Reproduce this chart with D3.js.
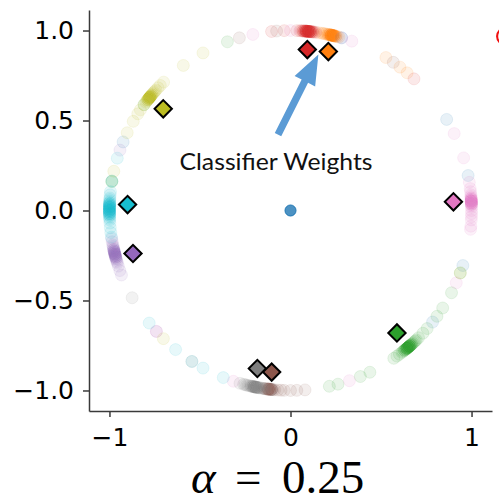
<!DOCTYPE html>
<html>
<head>
<meta charset="utf-8">
<script src="https://cdn.jsdelivr.net/npm/d3@7"></script>
<style>
body { margin: 0; background: #fff; }
</style>
</head>
<body>
<div id="chart"></div>
<script>
// tab10 colours, one per class
var colors = ["#1f77b4","#ff7f0e","#2ca02c","#d62728","#9467bd","#8c564b","#e377c2","#7f7f7f","#bcbd22","#17becf"];

// feature directions on the unit circle (degrees), one list per class
var blueAngles   = [73.6, 30.4, 11.2, 342.2, 321.7, 157.6, 264];
var orangeAngles = [81, 80, 79.5, 79, 78.5, 78, 78, 77.5, 77.5, 77.5, 77, 77, 77, 77, 77, 77, 76.5, 76.5, 76.5, 76.5, 76.5,
                    76.5, 76, 76, 76, 76, 75.5, 75.5, 75, 74.5,
                    58.2, 52.8, 49.9];
var greenAngles  = [306, 307, 308, 308.5, 309, 309, 309.5, 309.5, 310, 310, 310, 310, 310, 310.5, 310.5, 310.5, 310.5,
                    311, 311, 311, 311, 311, 311.5, 311.5, 311.5, 312, 312, 312.5, 313, 313.5, 314, 315,
                    110.4, 144, 170.6, 170.8, 282.4, 285.2, 292.7, 296, 304.8, 317, 319, 324, 327.2, 332.8, 339.7];
var redAngles    = [87, 86.5, 86, 86, 85.5, 85.5, 85.5, 85, 85, 85, 85, 85, 84.5, 84.5, 84.5, 84.5, 84.5, 84, 84, 84, 84,
                    84, 83.5, 83.5, 83.5, 83, 83, 82.5, 82,
                    88, 92, 96, 47];
var purpleAngles = [189, 190, 191, 191.5, 192, 192.5, 192.5, 193, 193, 193, 193.5, 193.5, 193.5, 194, 194, 194, 194,
                    194.5, 194.5, 194.5, 195, 195, 195, 195.5, 195.5, 196, 196.5, 197, 198,
                    160.4, 199.5, 201, 222.2, 73.6];
var brownAngles  = [261.5, 262, 262.5, 262.5, 263, 263, 263, 263, 263, 263.5, 263.5, 263.5, 264, 264, 264, 264.5, 265, 266,
                    55.4, 106.4, 94.4, 267, 268, 270, 272, 274.6];
var pinkAngles   = [9, 7, 6, 5, 4.5, 4, 4, 3.5, 3.5, 3.5, 3, 3, 3, 3, 3, 2.5, 2.5, 2.5, 2.5, 2, 2, 2, 1.5, 1, 0, -1,
                    -2, -3, -5, -6,
                    102, 90, 70.2, 25.3, 17, 336.3, 289, 222.2, 251.6];
var grayAngles   = [255.5, 256, 256.5, 257, 257.5, 257.5, 258, 258, 258, 258.5, 258.5, 258.5, 258.5, 259, 259, 259, 259,
                    259.5, 259.5, 259.5, 260, 260, 260.5, 261, 261.5, 262,
                    209, 237, 253.8, 255];
var oliveAngles  = [136, 137, 138, 138.5, 139, 139.5, 140, 140, 140.5, 140.5, 140.5, 141, 141, 141, 141, 141, 141.5,
                    141.5, 141.5, 141.5, 142, 142, 142, 142.5, 143, 144,
                    126.3, 118.9, 134.5, 146, 147.5, 150.3, 154.4, 167.4, 225.4, 339.7];
var cyanAngles   = [174, 175, 176, 176.5, 177, 177.5, 177.5, 178, 178, 178, 178.5, 178.5, 178.5, 179, 179, 179, 179,
                    179.5, 179.5, 179.5, 180, 180, 180, 180, 180.5, 180.5, 180.5, 181, 181, 181, 181.5, 181.5, 182,
                    182.5, 183, 184,
                    163.1, 170.6, 185.5, 187, 188.5, 218.7, 230.6, 241.1, 248.2, 237];
var angleSets = [blueAngles, orangeAngles, greenAngles, redAngles, purpleAngles,
                 brownAngles, pinkAngles, grayAngles, oliveAngles, cyanAngles];

// class that collapsed onto the origin
var centerPoints = [[0, 0]];

// classifier weight vectors [class, x, y]
var weights = [
  [3, 0.093, 0.894], [1, 0.209, 0.883], [8, -0.703, 0.565], [9, -0.90, 0.033],
  [4, -0.870, -0.239], [6, 0.90, 0.048], [2, 0.588, -0.68], [7, -0.183, -0.878], [5, -0.104, -0.898]
];

var xTicks = [-1, 0, 1];
var yTicks = [-1.0, -0.5, 0.0, 0.5, 1.0];

// annotation arrow (tail, tip) in data units
var arrowTail = [-0.069, 0.422], arrowTip = [0.154, 0.867];
var labelPos = [-0.08, 0.224];
// stray marker from the neighbouring panel, at the right edge
var strayPoint = [1.185, 0.968];

var W = 499, H = 502;
var margin = {top: 10, right: 7, bottom: 91, left: 89};

var svg = d3.select("#chart").append("svg")
    .attr("width", W).attr("height", H)
    .style("font-family", "'DejaVu Sans', sans-serif");

var x = d3.scaleLinear().domain([-1.113, 1.113]).range([margin.left, W - margin.right]);
var y = d3.scaleLinear().domain([-1.114, 1.114]).range([H - margin.bottom, margin.top]);

// points
var pts = [];
angleSets.forEach(function(a, c) {
  a.forEach(function(deg) {
    var r = deg * Math.PI / 180;
    pts.push({c: c, x: Math.cos(r), y: Math.sin(r)});
  });
});

svg.append("g").selectAll("circle")
  .data(pts).enter().append("circle")
    .attr("cx", function(d) { return x(d.x); })
    .attr("cy", function(d) { return y(d.y); })
    .attr("r", 6)
    .attr("fill", function(d) { return colors[d.c]; })
    .attr("fill-opacity", 0.1)
    .attr("stroke", function(d) { return colors[d.c]; })
    .attr("stroke-opacity", 0.1)
    .attr("stroke-width", 1);

svg.append("g").selectAll("circle")
  .data(centerPoints).enter().append("circle")
    .attr("cx", function(d) { return x(d[0]); })
    .attr("cy", function(d) { return y(d[1]); })
    .attr("r", 5.5)
    .attr("fill", colors[0]).attr("fill-opacity", 0.8)
    .attr("stroke", colors[0]).attr("stroke-width", 1);

// weight diamonds
var diamond = d3.symbol().type(d3.symbolSquare).size(150);
svg.append("g").selectAll("path")
  .data(weights).enter().append("path")
    .attr("d", diamond)
    .attr("transform", function(d) { return "translate(" + x(d[1]) + "," + y(d[2]) + ") rotate(45)"; })
    .attr("fill", function(d) { return colors[d[0]]; })
    .attr("stroke", "#000")
    .attr("stroke-width", 2);

// axes (left and bottom spines only)
var xAxis = d3.axisBottom(x).tickValues(xTicks).tickSize(6).tickSizeOuter(0).tickPadding(11)
    .tickFormat(function(d) { return d3.format("d")(d).replace("-", "\u2212"); });
var yAxis = d3.axisLeft(y).tickValues(yTicks).tickSize(6).tickSizeOuter(0).tickPadding(9)
    .tickFormat(function(d) { return d3.format(".1f")(d).replace("-", "\u2212"); });

svg.append("g")
    .attr("transform", "translate(0," + (H - margin.bottom) + ")")
    .call(xAxis);
svg.append("g")
    .attr("transform", "translate(" + margin.left + ",0)")
    .call(yAxis);

svg.selectAll(".domain, .tick line").attr("stroke", "#3a3a3a").attr("stroke-width", 1.5);
svg.selectAll(".tick text").attr("fill", "#000").style("font-size", "25px")
    .style("font-family", "'DejaVu Sans', sans-serif");

// annotation arrow
var t = [x(arrowTail[0]), y(arrowTail[1])], p = [x(arrowTip[0]), y(arrowTip[1])];
var dx = p[0] - t[0], dy = p[1] - t[1], len = Math.sqrt(dx * dx + dy * dy);
var ux = dx / len, uy = dy / len, nx = -uy, ny = ux;
var headLen = 30, headW = 11.5, shaftW = 3.6;
var bx = p[0] - ux * headLen, by = p[1] - uy * headLen;
var arrowPts = [
  [t[0] + nx * shaftW, t[1] + ny * shaftW],
  [bx + nx * shaftW, by + ny * shaftW],
  [bx + nx * headW, by + ny * headW],
  p,
  [bx - nx * headW, by - ny * headW],
  [bx - nx * shaftW, by - ny * shaftW],
  [t[0] - nx * shaftW, t[1] - ny * shaftW]
];
svg.append("path")
    .attr("d", d3.line()(arrowPts) + "Z")
    .attr("fill", "#5b9bd5");

svg.append("text")
    .attr("x", x(labelPos[0])).attr("y", y(labelPos[1]))
    .attr("text-anchor", "middle")
    .attr("textLength", 193).attr("lengthAdjust", "spacingAndGlyphs")
    .style("font-family", "Lato, 'Open Sans', sans-serif")
    .style("font-size", "23px")
    .attr("fill", "#111")
    .text("Classifier Weights");

// stray marker cut by the right edge
svg.append("circle")
    .attr("cx", x(strayPoint[0])).attr("cy", y(strayPoint[1]))
    .attr("r", 8)
    .attr("fill", "#fbd9d9")
    .attr("stroke", "#f01010").attr("stroke-width", 2);

// title
var title = svg.append("text")
    .attr("y", 493)
    .style("font-family", "'Liberation Serif', 'DejaVu Serif', serif")
    .style("font-size", "47px")
    .attr("fill", "#000");
title.append("tspan").attr("x", 191).style("font-style", "italic").text("\u03b1");
title.append("tspan").attr("x", 235).text("=");
title.append("tspan").attr("x", 282).text("0.25");
</script>
</body>
</html>
